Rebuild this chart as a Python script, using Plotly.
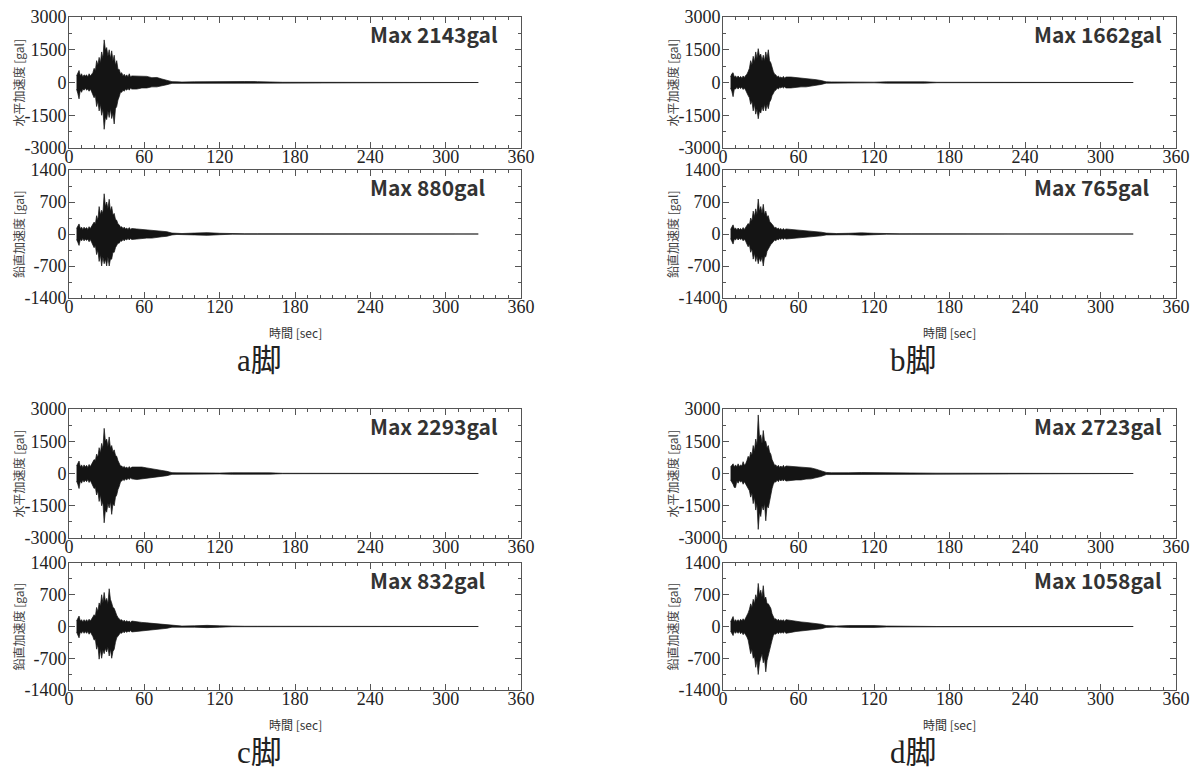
import plotly.graph_objects as go

# ---------------- data (envelopes, gal) ----------------
T = list(range(6, 51)) + [54, 58, 62, 66, 70, 74, 78, 82, 86, 90,
                          100, 110, 120, 130, 140, 150, 160, 170, 326]

aH_up = [300, 450, 550, 300, 400, 250, 350, 300, 350, 250, 400, 300, 380, 450, 650, 550, 1000, 800, 1150, 900, 1400, 1100, 1950, 1500, 1600, 1200, 1500, 1100, 1450, 1000, 1250, 800, 1000, 600, 600, 400, 450, 300, 380, 280, 350, 250, 400, 250, 300,
         300, 280, 280, 220, 230, 160, 110, 40, 30, 20,
         30, 40, 25, 40, 45, 40, 20, 10, 0]
aH_lo = [-300, -500, -750, -350, -450, -300, -350, -250, -350, -300, -400, -300, -420, -500, -700, -600, -1100, -850, -1300, -1000, -1500, -1200, -2143, -1600, -1700, -1300, -1600, -1200, -1650, -1400, -1900, -1200, -1100, -800, -650, -450, -450, -350, -400, -300, -350, -280, -350, -250, -300,
         -300, -250, -250, -200, -200, -150, -100, -40, -30, -20,
         -30, -40, -25, -40, -45, -40, -20, -10, 0]
aV_up = [120, 180, 220, 120, 150, 100, 150, 110, 140, 100, 160, 120, 170, 200, 260, 220, 400, 300, 600, 420, 520, 450, 880, 600, 700, 550, 760, 500, 600, 420, 450, 320, 300, 220, 200, 150, 160, 120, 150, 110, 130, 100, 140, 100, 120,
         110, 100, 90, 90, 80, 60, 50, 20, 10, 10,
         20, 30, 15, 5, 5, 5, 5, 0, 0]
aV_lo = [-120, -180, -250, -120, -150, -100, -150, -110, -140, -110, -170, -120, -180, -220, -300, -250, -450, -350, -600, -450, -700, -500, -650, -550, -700, -500, -700, -550, -550, -400, -400, -300, -250, -200, -200, -150, -160, -120, -150, -110, -130, -100, -130, -100, -120,
         -110, -100, -90, -90, -80, -60, -50, -20, -10, -10,
         -20, -30, -15, -5, -5, -5, -5, 0, 0]

bH_up = [250, 400, 450, 250, 300, 220, 300, 220, 280, 200, 300, 230, 320, 380, 500, 650, 1000, 800, 1200, 950, 1400, 1100, 1550, 1200, 1300, 1000, 1250, 1000, 1400, 1100, 1500, 1000, 900, 650, 500, 380, 350, 250, 300, 220, 250, 200, 280, 200, 250,
         250, 230, 220, 200, 180, 130, 90, 30, 25, 20,
         25, 20, 15, 30, 35, 35, 30, 10, 0]
bH_lo = [-250, -400, -650, -300, -300, -220, -300, -220, -280, -220, -320, -250, -350, -420, -600, -700, -1000, -850, -1300, -1000, -1450, -1200, -1662, -1300, -1400, -1100, -1300, -1000, -1300, -1000, -1200, -900, -800, -600, -500, -380, -350, -250, -300, -220, -250, -200, -250, -200, -250,
         -250, -230, -200, -200, -180, -130, -90, -30, -25, -20,
         -25, -20, -15, -30, -35, -35, -30, -10, 0]
bV_up = [100, 150, 200, 110, 130, 90, 130, 100, 120, 90, 140, 100, 150, 180, 230, 200, 350, 280, 500, 380, 550, 420, 765, 500, 600, 450, 650, 420, 500, 380, 400, 280, 250, 200, 180, 130, 150, 110, 130, 100, 120, 90, 120, 90, 110,
         100, 90, 80, 80, 70, 50, 40, 20, 10, 10,
         15, 25, 15, 5, 5, 5, 5, 0, 0]
bV_lo = [-100, -160, -220, -110, -130, -90, -130, -100, -120, -100, -150, -110, -160, -200, -280, -230, -400, -320, -550, -420, -600, -480, -650, -520, -600, -500, -700, -500, -500, -380, -350, -280, -230, -200, -180, -130, -150, -110, -130, -100, -120, -90, -120, -90, -110,
         -100, -90, -80, -80, -70, -50, -40, -20, -10, -10,
         -15, -25, -15, -5, -5, -5, -5, 0, 0]

cH_up = [350, 480, 580, 300, 400, 280, 400, 300, 380, 280, 420, 320, 450, 500, 650, 600, 900, 750, 1200, 950, 1400, 1150, 2100, 1500, 1600, 1250, 1700, 1200, 1300, 1000, 1100, 850, 800, 600, 450, 350, 350, 280, 330, 250, 300, 230, 320, 240, 300,
         300, 300, 260, 230, 170, 140, 100, 40, 30, 25,
         30, 25, 20, 35, 40, 40, 30, 10, 0]
cH_lo = [-350, -500, -700, -350, -450, -300, -400, -300, -380, -280, -420, -320, -450, -520, -700, -650, -1000, -800, -1300, -1000, -1500, -1300, -2293, -1700, -1800, -1400, -1600, -1300, -1900, -1400, -1500, -1100, -1000, -750, -600, -400, -350, -280, -330, -250, -300, -220, -280, -200, -250,
         -280, -280, -250, -220, -170, -130, -100, -40, -30, -25,
         -30, -25, -20, -35, -40, -40, -30, -10, 0]
cV_up = [120, 180, 230, 120, 150, 100, 150, 110, 150, 110, 160, 120, 180, 210, 260, 230, 420, 330, 520, 450, 700, 520, 750, 550, 620, 500, 832, 600, 520, 420, 400, 300, 250, 200, 180, 140, 150, 110, 140, 100, 130, 100, 120, 90, 120,
         100, 90, 80, 70, 60, 50, 40, 15, 10, 10,
         15, 25, 15, 5, 5, 5, 5, 0, 0]
cV_lo = [-120, -180, -250, -120, -150, -100, -150, -110, -150, -110, -170, -120, -180, -220, -300, -280, -500, -400, -720, -500, -700, -520, -600, -480, -560, -450, -650, -500, -700, -550, -500, -350, -250, -200, -180, -140, -150, -110, -140, -100, -130, -100, -120, -90, -120,
         -100, -90, -80, -70, -60, -50, -40, -15, -10, -10,
         -15, -25, -15, -5, -5, -5, -5, 0, 0]

dH_up = [300, 380, 450, 300, 400, 300, 450, 320, 400, 350, 550, 380, 450, 600, 800, 700, 1000, 850, 1300, 1050, 1600, 1300, 2723, 1700, 1800, 1400, 2000, 1500, 1500, 1200, 1300, 1000, 900, 650, 500, 380, 400, 300, 380, 280, 350, 280, 380, 280, 350,
         330, 320, 300, 280, 260, 200, 140, 50, 35, 30,
         35, 45, 40, 30, 40, 45, 40, 15, 0]
dH_lo = [-300, -400, -500, -650, -650, -350, -450, -320, -400, -350, -500, -380, -450, -580, -700, -800, -1100, -900, -1400, -1100, -1700, -1400, -2600, -1800, -2000, -1500, -1700, -1400, -2200, -1500, -1600, -1200, -1000, -700, -500, -380, -400, -300, -380, -280, -350, -280, -350, -270, -350,
         -330, -300, -300, -260, -250, -200, -140, -50, -35, -30,
         -35, -45, -40, -30, -40, -45, -40, -15, 0]
dV_up = [100, 160, 220, 110, 150, 110, 150, 110, 160, 120, 170, 130, 180, 220, 300, 380, 500, 420, 600, 500, 700, 600, 950, 700, 800, 650, 900, 600, 650, 500, 500, 450, 400, 280, 200, 160, 170, 130, 160, 120, 150, 120, 150, 110, 150,
         130, 110, 100, 90, 80, 60, 50, 20, 10, 10,
         20, 25, 20, 10, 5, 5, 5, 0, 0]
dV_lo = [-100, -160, -200, -110, -150, -110, -150, -110, -160, -120, -180, -140, -190, -230, -300, -420, -600, -500, -700, -650, -900, -750, -1058, -800, -700, -600, -800, -700, -1000, -750, -600, -500, -400, -300, -200, -160, -170, -130, -160, -120, -150, -120, -150, -110, -150,
         -130, -110, -100, -90, -80, -60, -50, -20, -10, -10,
         -20, -25, -20, -10, -5, -5, -5, 0, 0]

legs = ["a脚", "b脚", "c脚", "d脚"]
max_H = ["Max 2143gal", "Max 1662gal", "Max 2293gal", "Max 2723gal"]
max_V = ["Max 880gal", "Max 765gal", "Max 832gal", "Max 1058gal"]

x_ticks = [0, 60, 120, 180, 240, 300, 360]
x_minor = [v for v in range(10, 360, 10) if v % 60]
yH_ticks = [-3000, -1500, 0, 1500, 3000]
yH_text = ["-3000", "-1500", "0", "1500", "3000"]
yH_minor = [-2250, -750, 750, 2250]
yV_ticks = [-1400, -700, 0, 700, 1400]
yV_text = ["-1400", "-700", "0", "700", "1400"]
yV_minor = [-1050, -350, 350, 1050]

H_title = "水平加速度 [gal]"
V_title = "鉛直加速度 [gal]"
X_title = "時間 [sec]"

records = [(aH_up, aH_lo), (aV_up, aV_lo), (bH_up, bH_lo), (bV_up, bV_lo),
           (cH_up, cH_lo), (cV_up, cV_lo), (dH_up, dH_lo), (dV_up, dV_lo)]

# ---------------- layout geometry (pixels) ----------------
W, H = 1204, 780
panel_x = [(69, 521), (723, 1176), (69, 521), (723, 1176)]
panel_y = [((17, 148), (170, 298)), ((17, 148), (170, 298)),
           ((409, 538), (563, 690)), ((409, 538), (563, 690))]

def px(x):
    return x / W

def py(y):
    return 1 - y / H

fig = go.Figure()
layout = dict(width=W, height=H, margin=dict(l=0, r=0, t=0, b=0, pad=0),
              paper_bgcolor="white", plot_bgcolor="white", showlegend=False)
annotations = []

tickfont = dict(family="Liberation Serif, DejaVu Serif, serif", size=18, color="#222")
axcolor = "#555"

n = 0
for p in range(4):
    x0, x1 = panel_x[p]
    for k in range(2):
        n += 1
        up, lo = records[2 * p + k]
        y0, y1 = panel_y[p][k]
        fig.add_trace(go.Scatter(
            x=T + T[::-1], y=up + lo[::-1], mode="lines", fill="toself",
            fillcolor="#141414", line=dict(color="#141414", width=0.7),
            xaxis=f"x{n}", yaxis=f"y{n}", hoverinfo="skip"))
        xa = dict(domain=[px(x0), px(x1)], anchor=f"y{n}", range=[0, 360],
                  automargin=False, ticklabelstandoff=-8,
                  tickmode="array", tickvals=x_ticks, ticks="inside", ticklen=6,
                  tickcolor=axcolor, showline=True, linecolor=axcolor, linewidth=1,
                  mirror="ticks", showgrid=False, zeroline=False, tickfont=tickfont,
                  minor=dict(tickmode="array", tickvals=x_minor, ticks="inside",
                             ticklen=3, tickcolor=axcolor, showgrid=False))
        if k == 0:
            yt, ytx, ym, rng = yH_ticks, yH_text, yH_minor, [-3000, 3000]
        else:
            yt, ytx, ym, rng = yV_ticks, yV_text, yV_minor, [-1400, 1400]
        ya = dict(domain=[py(y1), py(y0)], anchor=f"x{n}", range=rng,
                  automargin=False, ticklabelstandoff=-2,
                  tickmode="array", tickvals=yt, ticktext=ytx, ticks="inside", ticklen=6,
                  tickcolor=axcolor, showline=True, linecolor=axcolor, linewidth=1,
                  mirror="ticks", showgrid=False, zeroline=False, tickfont=tickfont,
                  minor=dict(tickmode="array", tickvals=ym, ticks="inside",
                             ticklen=3, tickcolor=axcolor, showgrid=False))
        layout[f"xaxis{n}"] = xa
        layout[f"yaxis{n}"] = ya

        # Max label
        maxtxt = max_H[p] if k == 0 else max_V[p]
        annotations.append(dict(
            x=px(x0 + 299 if p % 2 == 0 else x0 + 309), y=py(y0 + 17),
            xref="paper", yref="paper", xanchor="left", yanchor="middle",
            text=f"<b>{maxtxt}</b>", showarrow=False,
            font=dict(family="Noto Sans CJK JP, Noto Sans, sans-serif", size=21, color="#333")))
        # y title
        annotations.append(dict(
            x=px(x0 - 51), y=py((y0 + y1) / 2), xref="paper", yref="paper",
            xanchor="center", yanchor="middle", textangle=-90,
            text=H_title if k == 0 else V_title, showarrow=False,
            font=dict(family="Noto Sans CJK JP, sans-serif", size=12, color="#444")))
    # x title
    ybot = panel_y[p][1][1]
    annotations.append(dict(
        x=px((x0 + x1) / 2), y=py(ybot + 34), xref="paper", yref="paper",
        xanchor="center", yanchor="middle", text=X_title, showarrow=False,
        font=dict(family="Noto Sans CJK JP, sans-serif", size=12, color="#333")))
    # panel title
    annotations.append(dict(
        x=px((x0 + x1) / 2 - 36), y=py(ybot + 62), xref="paper", yref="paper",
        xanchor="center", yanchor="middle", text=legs[p], showarrow=False,
        font=dict(family="Liberation Serif, Noto Sans CJK JP, serif", size=31, color="#222")))

layout["annotations"] = annotations
fig.update_layout(**layout)
fig.write_html("out.html", config={"displayModeBar": False},
               post_script="document.body.style.margin='0px';document.body.style.padding='0px';")
